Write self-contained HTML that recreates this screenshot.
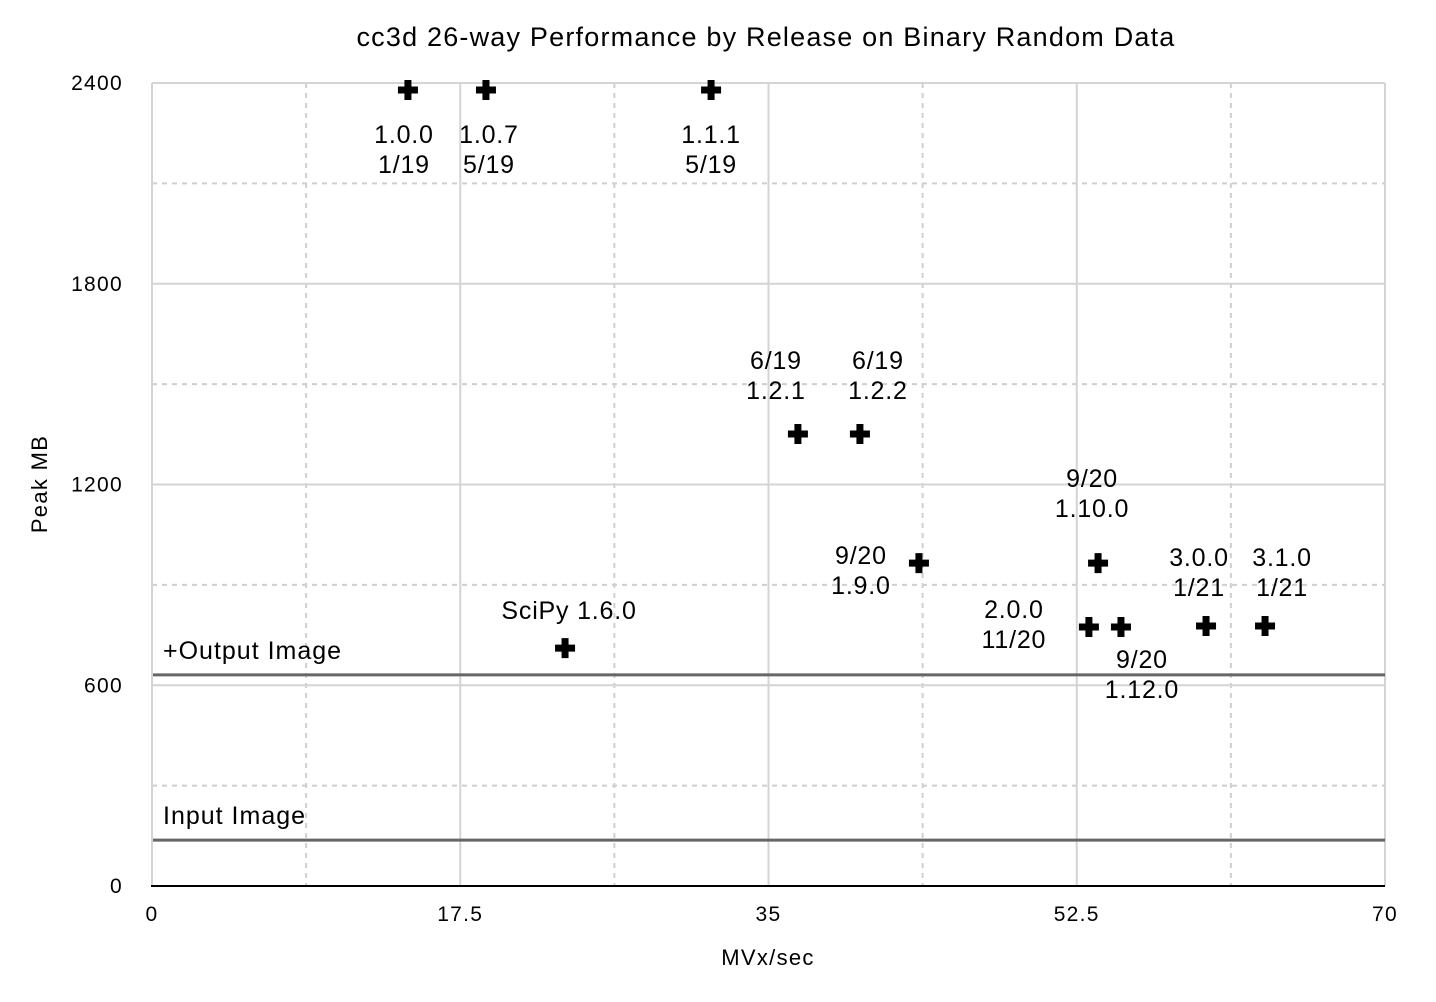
<!DOCTYPE html>
<html><head><meta charset="utf-8"><style>
html,body{margin:0;padding:0;background:#fff;}
svg{display:block;font-family:"Liberation Sans",Arial,sans-serif;}
</style></head><body>
<svg id="chart" width="1436" height="1002" viewBox="0 0 1436 1002">
<text x="766" y="46" text-anchor="middle" font-size="27" letter-spacing="1.2" fill="#000">cc3d 26-way Performance by Release on Binary Random Data</text>
<text x="768" y="965" text-anchor="middle" font-size="22" letter-spacing="1.3" fill="#000">MVx/sec</text>
<text transform="translate(47,484) rotate(-90)" text-anchor="middle" font-size="22" letter-spacing="1.3" fill="#000">Peak MB</text>
<g id="grid"></g>
<g id="refs"></g>
<g id="axes"></g>
<g id="marks"></g>
</svg>
<script>
const releaseLabels = [["1.0.0","1/19"],["1.0.7","5/19"],["1.1.1","5/19"],["6/19","1.2.1"],["6/19","1.2.2"],["9/20","1.9.0"],["9/20","1.10.0"],["2.0.0","11/20"],["9/20","1.12.0"],["3.0.0","1/21"],["3.1.0","1/21"],["SciPy 1.6.0"]];
const speedValues = [14.53, 18.96, 31.74, 36.67, 40.19, 43.54, 53.71, 53.19, 55.01, 59.84, 63.19, 23.45];
const peakMBValues = [2379, 2379, 2379, 1351, 1351, 965, 965, 774, 774, 777, 777, 711];
const xTicks = [0, 17.5, 35, 52.5, 70];
const xTickLabels = ["0","17.5","35","52.5","70"];
const xMinorTicks = [8.75, 26.25, 43.75, 61.25];
const yTicks = [0, 600, 1200, 1800, 2400];
const yMinorTicks = [300, 900, 1500, 2100];
const refLineNames = ["+Output Image","Input Image"];
const refLineValues = [631, 137];
// label offsets (styling, px relative to point)
const labelOffsets = [[-4,44],[3,44],[0,44],[-22,-74],[18,-74],[-58,-8],[-6,-85],[-75,-18],[21,32],[-7,-69],[17,-69],[4,-38]];

const X0=152,X1=1385,Y0=886,Y1=83;
const xs=v=>X0+(v/70)*(X1-X0);
const ys=v=>Y0-(v/2400)*(Y0-Y1);
const NS="http://www.w3.org/2000/svg";
function mk(tag,attrs,parent){const e=document.createElementNS(NS,tag);for(const k in attrs)e.setAttribute(k,attrs[k]);parent.appendChild(e);return e;}
const grid=document.getElementById('grid'),axes=document.getElementById('axes'),marks=document.getElementById('marks'),refs=document.getElementById('refs');

xMinorTicks.forEach(v=>{const l=mk('line',{x1:xs(v),x2:xs(v),y1:Y1,y2:Y0,stroke:'#cfcfcf','stroke-width':2,'stroke-dasharray':'5,5'},grid);

});
yMinorTicks.forEach(v=>{const l=mk('line',{x1:X0,x2:X1,y1:ys(v),y2:ys(v),stroke:'#cfcfcf','stroke-width':2,'stroke-dasharray':'5,5'},grid);

});
xTicks.forEach((v,i)=>{if(v>0){const l=mk('line',{x1:xs(v),x2:xs(v),y1:Y1,y2:Y0,stroke:'#d4d4d4','stroke-width':2},grid);

}
const t=mk('text',{x:xs(v),y:921,'text-anchor':'middle','font-size':21,'letter-spacing':1.3},axes);t.textContent=xTickLabels[i];

});
yTicks.forEach(v=>{if(v>0){const l=mk('line',{x1:X0,x2:X1,y1:ys(v),y2:ys(v),stroke:'#d4d4d4','stroke-width':2},grid);

}
const t=mk('text',{x:123,y:ys(v)+7,'text-anchor':'end','font-size':21,'letter-spacing':1.3},axes);t.textContent=v;

});
const ya=mk('line',{x1:X0,x2:X0,y1:Y1,y2:Y0,stroke:'#d4d4d4','stroke-width':2},axes);


const xa=mk('line',{x1:X0-1,x2:X1,y1:Y0,y2:Y0,stroke:'#000','stroke-width':2},axes);



refLineValues.forEach((v,i)=>{const l=mk('line',{x1:X0,x2:X1,y1:ys(v),y2:ys(v),stroke:'#666','stroke-width':3},refs);


const t=mk('text',{x:163,y:ys(v)-16,'font-size':25,'letter-spacing':1},refs);t.textContent=refLineNames[i];

});

speedValues.forEach((v,i)=>{const cx=xs(v),cy=ys(peakMBValues[i]);
const p=mk('path',{d:`M${cx-3.5},${cy-10}h7v6.5h6.5v7h-6.5v6.5h-7v-6.5h-6.5v-7h6.5z`,fill:'#000'},marks);


const [dx,dy]=labelOffsets[i];
const g=mk('text',{'text-anchor':'middle','font-size':25,'letter-spacing':0.8},marks);


releaseLabels[i].forEach((s,j)=>{const ts=mk('tspan',{x:cx+dx,y:cy+dy+9+j*30},g);ts.textContent=s;});});
</script>
</body></html>
